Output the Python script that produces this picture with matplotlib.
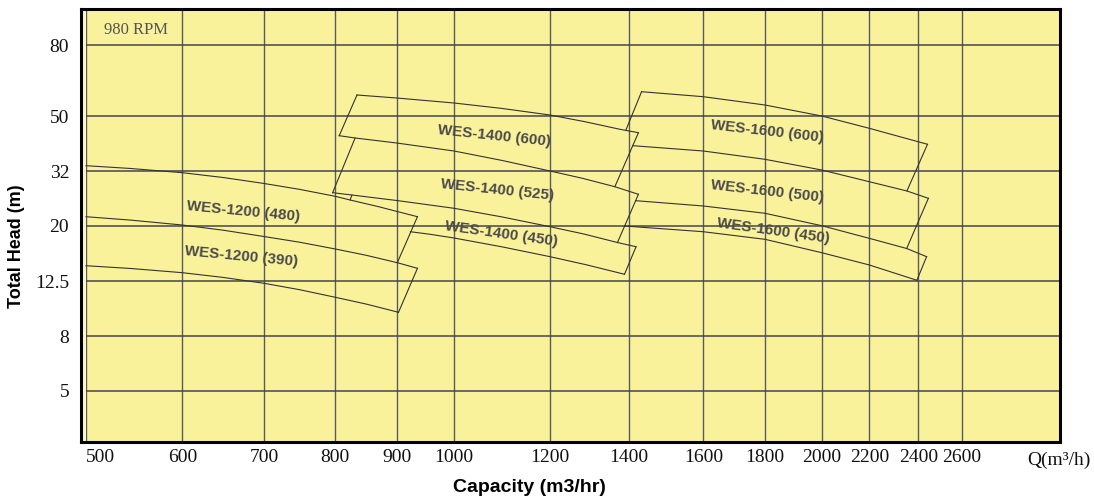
import numpy as np
import matplotlib
matplotlib.use('Agg')
import matplotlib.pyplot as plt

# Кривые напор-подача (Q в м3/ч, H в м)
# WES-1200
a_q = [500, 544, 600, 648, 700, 748, 800, 823, 868, 935]
a_h = [33.49, 32.74, 31.62, 30.34, 28.82, 27.41, 25.81, 25.01, 23.65, 21.66]
b_q = [500, 544, 600, 648, 700, 748, 800, 849, 901, 935]
b_h = [21.66, 21.04, 20.17, 19.30, 18.29, 17.43, 16.45, 15.59, 14.64, 13.96]
c_q = [500, 544, 600, 648, 700, 748, 800, 849, 903]
c_h = [14.27, 13.94, 13.45, 12.92, 12.3, 11.68, 10.98, 10.39, 9.72]
# WES-1400
t1_q = [834, 900, 1000, 1095, 1200, 1285, 1377, 1425]
t1_h = [57.57, 56.44, 54.6, 52.68, 50.43, 47.86, 44.99, 43.77]
t2_q = [806, 831, 900, 1000, 1095, 1200, 1279, 1363, 1425]
t2_h = [42.72, 41.93, 40.26, 37.73, 34.96, 32.08, 30.13, 28.03, 26.26]
t3_q = [796, 826, 900, 1000, 1095, 1200, 1282, 1370, 1419]
t3_h = [26.63, 26.1, 24.9, 23.29, 21.63, 19.88, 18.69, 17.38, 16.77]
t4_q = [923, 957, 1000, 1095, 1200, 1290, 1389]
t4_h = [19.05, 18.64, 18.06, 16.76, 15.41, 14.37, 13.27]
# WES-1600
u1_q = [1433, 1600, 1800, 2000, 2200, 2441]
u1_h = [58.84, 56.93, 53.88, 50.1, 45.36, 39.84]
u2_q = [1411, 1600, 1800, 2000, 2200, 2352, 2445]
u2_h = [39.39, 37.73, 35.27, 32.34, 29.26, 27.02, 25.37]
u3_q = [1418, 1600, 1800, 2000, 2200, 2351, 2437]
u3_h = [24.86, 23.75, 22.31, 20.05, 18.01, 16.52, 15.41]
u4_q = [1389, 1600, 1800, 2000, 2200, 2394]
u4_h = [20.0, 19.05, 17.86, 15.94, 14.36, 12.61]

curves_q = [a_q, b_q, c_q, t1_q, t2_q, t3_q, t4_q, u1_q, u2_q, u3_q, u4_q]
curves_h = [a_h, b_h, c_h, t1_h, t2_h, t3_h, t4_h, u1_h, u2_h, u3_h, u4_h]

# Боковые границы полей (отрезки)
edges_q = [[935, 901], [935, 903],
           [1425, 1363], [1425, 1370], [1419, 1389],
           [834, 806], [831, 796], [826, 823],
           [2441, 2352], [2445, 2351], [2437, 2394],
           [1433, 1393]]
edges_h = [[21.66, 14.64], [13.96, 9.72],
           [43.77, 28.03], [26.26, 17.38], [16.77, 13.27],
           [57.57, 42.72], [41.93, 26.63], [26.1, 25.01],
           [39.84, 27.02], [25.37, 16.52], [15.41, 12.61],
           [58.84, 44.74]]

# Подписи моделей
labels = ['WES-1200 (480)', 'WES-1200 (390)',
          'WES-1400 (600)', 'WES-1400 (525)', 'WES-1400 (450)',
          'WES-1600 (600)', 'WES-1600 (500)', 'WES-1600 (450)']
label_q = [673, 670, 1079, 1085, 1093, 1807, 1807, 1827]
label_h = [22.56, 15.5, 42.61, 27.25, 18.69, 44.38, 27.02, 19.17]
label_rot = [-5.5, -5.5, -6, -6, -8, -6.5, -6.5, -8]

x_ticks = [500, 600, 700, 800, 900, 1000, 1200, 1400, 1600, 1800, 2000, 2200, 2400, 2600]
y_ticks = [5, 8, 12.5, 20, 32, 50, 80]
y_tick_labels = ['5', '8', '12.5', '20', '32', '50', '80']

# Неравномерная шкала как на исходном графике (положения делений в пикселях)
x_anchor = [495, 500, 600, 700, 800, 900, 1000, 1200, 1400, 1600, 1800, 2000, 2200, 2400, 2600, 3120]
x_pix = [81, 86, 182.3, 264, 335.3, 396.7, 454, 550, 628.5, 703.3, 765, 821.7, 869.3, 918.3, 961.7, 1060]
y_anchor = [3.21, 5, 8, 12.5, 20, 32, 50, 80, 101.7]
y_pix = [442, 390.7, 336.3, 281.3, 226, 171.3, 116.3, 45.3, 9]

lx = np.log(x_anchor)
px = np.array(x_pix)
ly = np.log(y_anchor)
py = -np.array(y_pix)

def fx(v):
    return np.interp(np.log(np.clip(v, 1e-6, None)), lx, px)

def ix(p):
    return np.exp(np.interp(p, px, lx))

def fy(v):
    return np.interp(np.log(np.clip(v, 1e-6, None)), ly, py)

def iy(p):
    return np.exp(np.interp(p, py, ly))

W, H = 1094, 497
fig = plt.figure(figsize=(W / 100, H / 100), dpi=100)
ax = fig.add_axes([81 / W, 1 - 442 / H, (1060 - 81) / W, (442 - 9) / H])
ax.set_facecolor('#FAF29B')
ax.set_xscale('function', functions=(fx, ix))
ax.set_yscale('function', functions=(fy, iy))
ax.set_xlim(x_anchor[0], x_anchor[-1])
ax.set_ylim(y_anchor[0], y_anchor[-1])

serif = 'Liberation Serif'
sans = 'Liberation Sans'

ax.set_xticks(x_ticks)
ax.set_xticklabels([str(v) for v in x_ticks], fontfamily=serif, fontsize=14)
ax.xaxis.get_ticklabels()[0].set_horizontalalignment('left')
ax.set_yticks(y_ticks)
ax.set_yticklabels(y_tick_labels, fontfamily=serif, fontsize=14)
ax.xaxis.set_minor_locator(matplotlib.ticker.NullLocator())
ax.yaxis.set_minor_locator(matplotlib.ticker.NullLocator())
ax.tick_params(axis='x', length=0, pad=5, colors='#111111')
ax.tick_params(axis='y', length=0, pad=8.5, colors='#111111')

# светлая полоска у левого края, как на оригинале
ax.axvspan(x_anchor[0], x_ticks[0], color='#FCF8C6', linewidth=0)

ax.set_axisbelow(True)
ax.grid(axis='x', color='#5a5a62', linewidth=1.0)
ax.grid(axis='y', color='#45454f', linewidth=1.1)

for s in ax.spines.values():
    s.set_linewidth(2.2)
    s.set_color('black')

for q, h in zip(curves_q, curves_h):
    ax.plot(q, h, color='#333333', linewidth=0.8)
for q, h in zip(edges_q, edges_h):
    ax.plot(q, h, color='#333333', linewidth=0.8)

for txt, q, h, r in zip(labels, label_q, label_h, label_rot):
    ax.text(q, h, txt, fontfamily=sans, fontweight='bold', fontsize=11,
            color='#4a4a4a', ha='center', va='center', rotation=r,
            rotation_mode='anchor')

fig.text(104 / W, 1 - 34.3 / H, '980 RPM', fontfamily=serif, fontsize=12,
         color='#555555', ha='left', va='baseline')
fig.text(1058.5 / W, 1 - 465 / H, 'Q(m³/h)', fontfamily=serif, fontsize=14,
         color='#111111', ha='center', va='baseline')
fig.text(529 / W, 1 - 491.5 / H, 'Capacity (m3/hr)', fontfamily=sans,
         fontweight='bold', fontsize=14, ha='center', va='baseline')
fig.text(17 / W, 1 - 246.5 / H, 'Total Head (m)', fontfamily=sans,
         fontweight='bold', fontsize=13, rotation=90, ha='center', va='center')

fig.savefig('out.png', dpi=100)
